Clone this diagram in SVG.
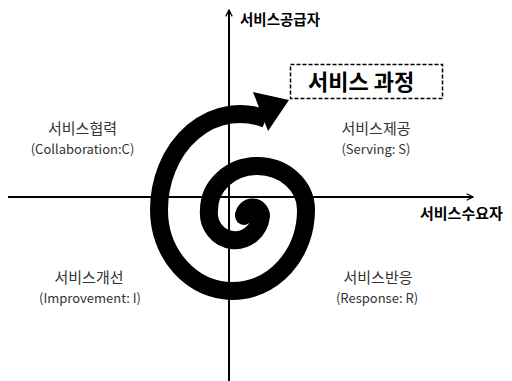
<svg xmlns="http://www.w3.org/2000/svg" width="512" height="381" viewBox="0 0 512 381">
<style>
.axis{stroke:#000;stroke-width:2;fill:none}
.lbl{font-family:"Noto Sans CJK KR","Noto Sans",sans-serif;fill:#333;text-anchor:middle}
.ko{font-size:15px}
.en{font-size:13px}
.bold{font-family:"Noto Sans CJK KR","Noto Sans",sans-serif;font-weight:bold;fill:#000}
</style>
<defs>
<marker id="open" viewBox="0 0 10 10" refX="9" refY="5" markerWidth="8" markerHeight="8" markerUnits="userSpaceOnUse" orient="auto">
<path d="M1,1 L9,5 L1,9" fill="none" stroke="#000" stroke-width="1.6"/>
</marker>
</defs>
<rect width="512" height="381" fill="#fff"/>
<g id="connectors">
<line class="axis" x1="229" y1="381" x2="229" y2="10" marker-end="url(#open)"/>
<line class="axis" x1="8" y1="197" x2="473" y2="197" marker-end="url(#open)"/>
</g>
<g id="spiral">
<path d="M244,216 A8.5,8.5 0 0 1 261,216 A26,27 0 0 1 209,210 A48.5,44 0 0 1 306,210 A73.5,81 0 0 1 159,210 A81,96 0 0 1 266,119" fill="none" stroke="#000" stroke-width="18"/>
<circle cx="244" cy="216" r="9" fill="#000"/>
<polygon points="253,92 289,100 268,131" fill="#000"/>
</g>
<g id="process">
<rect x="290.5" y="64.5" width="152" height="34" fill="#fff" stroke="#000" stroke-width="1.5" stroke-dasharray="4,2"/>
<text class="bold" x="308" y="90" font-size="22">서비스 과정</text>
</g>
<g id="supplier">
<text class="bold" x="240" y="25" font-size="14.5">서비스공급자</text>
</g>
<g id="consumer">
<text class="bold" x="420" y="219" font-size="15">서비스수요자</text>
</g>
<g id="collaboration">
<text class="lbl ko" x="82.5" y="134">서비스협력</text>
<text class="lbl en" x="82.5" y="154">(Collaboration:C)</text>
</g>
<g id="serving">
<text class="lbl ko" x="376" y="134">서비스제공</text>
<text class="lbl en" x="376" y="154">(Serving: S)</text>
</g>
<g id="improvement">
<text class="lbl ko" x="89" y="283">서비스개선</text>
<text class="lbl en" x="90" y="303">(Improvement: I)</text>
</g>
<g id="response">
<text class="lbl ko" x="378" y="283">서비스반응</text>
<text class="lbl en" x="377" y="303">(Response: R)</text>
</g>
</svg>
